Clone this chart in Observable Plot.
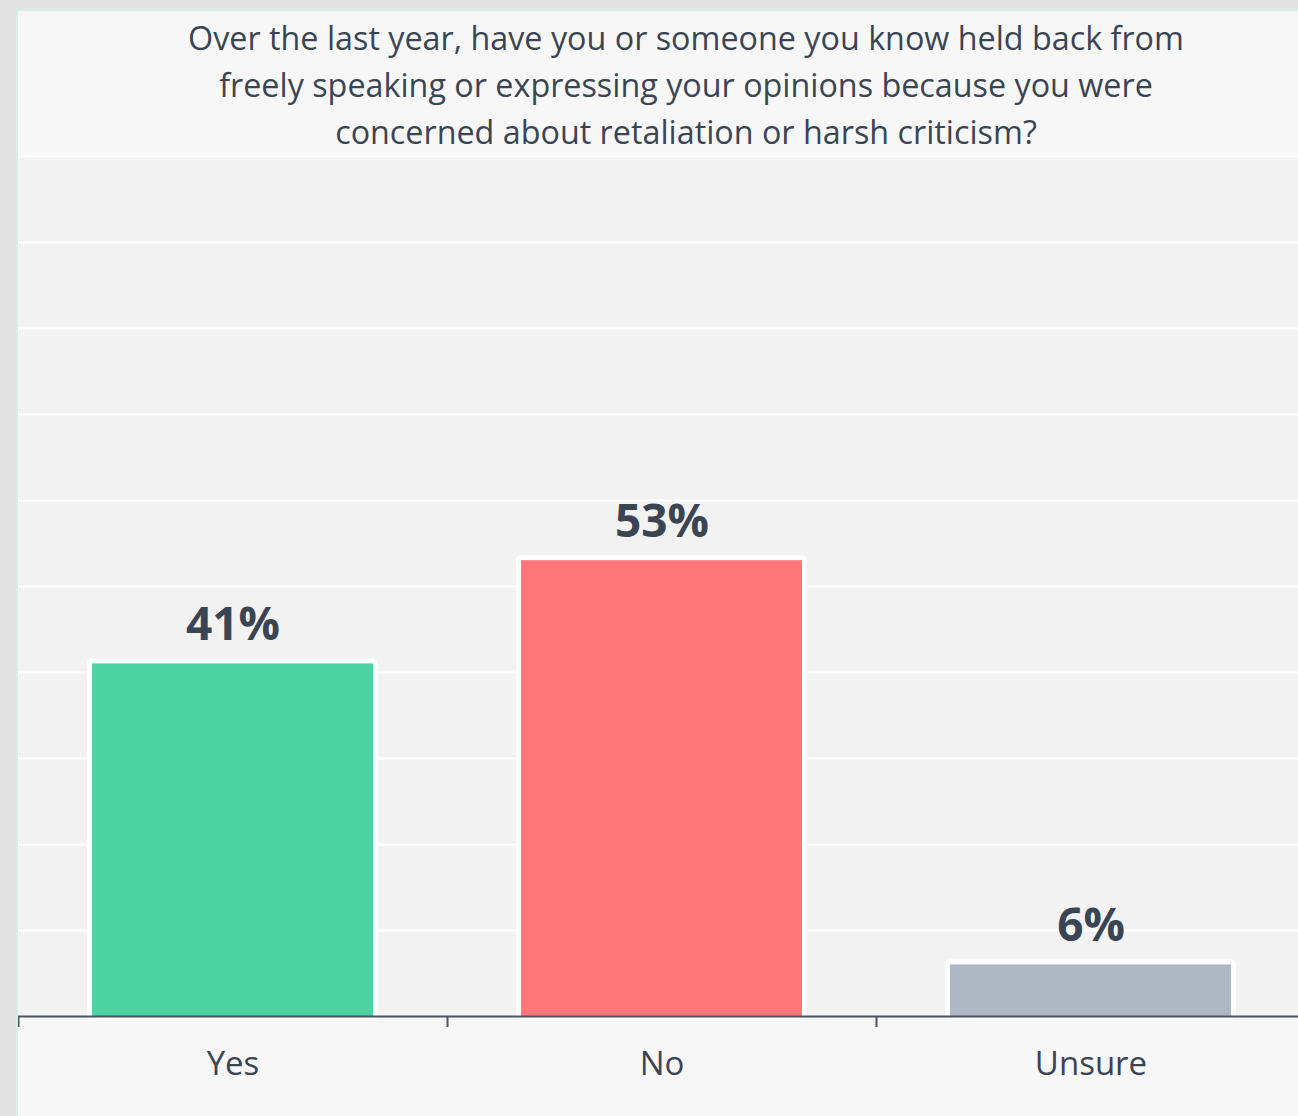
<!DOCTYPE html>
<html>
<head>
<meta charset="utf-8">
<script src="https://cdn.jsdelivr.net/npm/d3@7"></script>
<script src="https://cdn.jsdelivr.net/npm/@observablehq/plot@0.6"></script>
<style>
  html, body { margin: 0; padding: 0; }
  body { width: 1298px; height: 1116px; overflow: hidden; background: #e2e2e2; position: relative; font-family: "Open Sans", sans-serif; }
  #panel { position: absolute; left: 16px; top: 9px; width: 1300px; height: 1120px; background: #f7f7f7; border-left: 2px solid #d6efe6; border-top: 2px solid #d6efe6; }
  #title { position: absolute; left: -17px; top: 3px; width: 1370px; text-align: center; color: #3a4553; font-size: 32.3px; line-height: 47px; }
  #chart { position: absolute; left: 0; top: 144px; }
</style>
</head>
<body>
<div id="panel">
  <div id="title">Over the last year, have you or someone you know held back from<br>freely speaking or expressing your opinions because you were<br>concerned about retaliation or harsh criticism?</div>
  <div id="chart"></div>
</div>
<script>
const categories = ["Yes", "No", "Unsure"];
const values = [41, 53, 6];
const labels = ["41%", "53%", "6%"];
const colors = ["#4cd3a1", "#ff7678", "#adb8c4"];
const gridTicks = [10, 20, 30, 40, 50, 60, 70, 80, 90, 100];

const data = categories.map((c, i) => ({category: c, value: values[i], label: labels[i], color: colors[i]}));

const W = 1282, H = 961;
const xRange = [0, 1287];
const step = (xRange[1] - xRange[0]) / categories.length;

const chart = Plot.plot({
  width: W,
  height: H,
  marginTop: 1,
  marginBottom: 100,
  marginLeft: 0,
  marginRight: 0,
  style: {background: "transparent", fontFamily: "Open Sans, sans-serif", color: "#3a4553"},
  x: {domain: categories, range: xRange, paddingInner: 0.345, paddingOuter: 0.1725, round: false, label: null},
  y: {domain: [0, 100], label: null, axis: null},
  marks: [
    Plot.frame({fill: "#f2f2f2", stroke: null}),
    Plot.ruleY(gridTicks, {stroke: "#ffffff", strokeWidth: 2}),
    Plot.barY(data, {x: "category", y: "value", fill: "color", stroke: "#ffffff", strokeWidth: 10, strokeLinejoin: "round", paintOrder: "stroke"}),
    Plot.text(data, {x: "category", y: "value", text: "label", lineAnchor: "bottom", dy: -24, fontSize: 46, fontWeight: "bold", fill: "#3a4553"}),
    Plot.ruleY([0], {stroke: "#4a5563", strokeWidth: 2}),
    Plot.axisX({tickSize: 11, dx: -step / 2, text: null, stroke: "#4a5563", strokeWidth: 2}),
    Plot.axisX({tickSize: 0, tickPadding: 35, fontSize: 33, fill: "#3a4553"})
  ]
});
document.getElementById("chart").appendChild(chart);
</script>
</body>
</html>
